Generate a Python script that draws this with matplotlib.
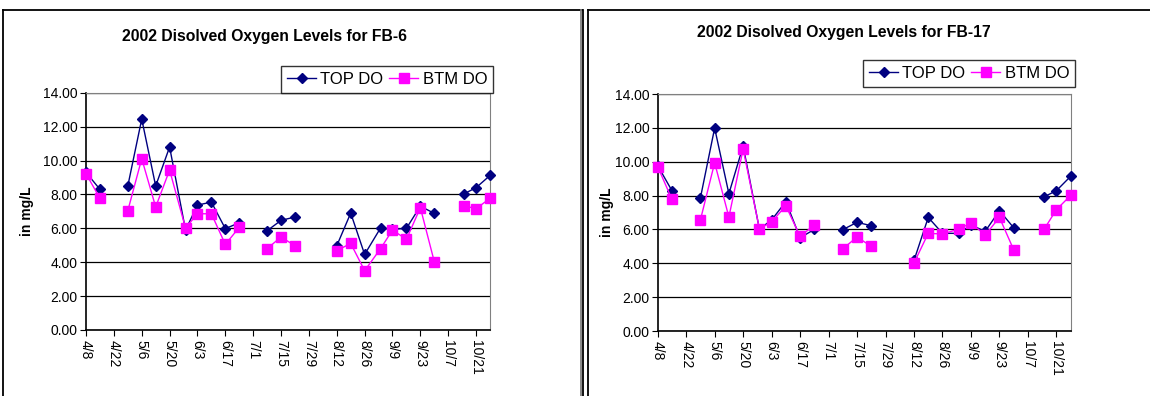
import numpy as np
import matplotlib
matplotlib.use('Agg')
import matplotlib.pyplot as plt
import matplotlib.dates as mdates
from matplotlib.lines import Line2D
from matplotlib.ticker import FixedLocator, FuncFormatter
from datetime import date, timedelta

plt.rcParams['font.family'] = ['Liberation Sans', 'DejaVu Sans']

nan = np.nan
# sample dates (2002), weekly with a few holiday shifts
sample_dates = ["4/8", "4/15", "4/22", "4/29", "5/6", "5/13", "5/20", "5/28", "6/3", "6/10",
                "6/17", "6/24", "7/1", "7/8", "7/15", "7/22", "7/29", "8/5", "8/12", "8/19",
                "8/26", "9/3", "9/9", "9/16", "9/23", "9/30", "10/7", "10/15", "10/21", "10/28"]

fb6_top = [9.30, 8.30, nan, 8.50, 12.45, 8.50, 10.80, 5.90, 7.37, 7.55,
           5.98, 6.33, nan, 5.86, 6.47, 6.67, nan, nan, 4.97, 6.90,
           4.46, 6.02, 5.94, 6.00, 7.31, 6.88, nan, 8.04, 8.40, 9.12]
fb6_btm = [9.22, 7.77, nan, 7.04, 10.11, 7.26, 9.44, 6.02, 6.86, 6.86,
           5.05, 6.06, nan, 4.80, 5.49, 4.97, nan, nan, 4.68, 5.11,
           3.50, 4.80, 5.90, 5.35, 7.22, 4.03, nan, 7.33, 7.16, 7.77]

fb17_top = [9.77, 8.29, nan, 7.86, 11.99, 8.11, 10.93, 6.02, 6.56, 7.64,
            5.51, 6.00, nan, 5.99, 6.42, 6.22, nan, nan, 4.17, 6.71,
            5.77, 5.77, 6.26, 5.89, 7.11, 6.10, nan, 7.93, 8.29, 9.14]
fb17_btm = [9.71, 7.78, nan, 6.56, 9.94, 6.73, 10.75, 6.04, 6.44, 7.40,
            5.59, 6.26, nan, 4.86, 5.55, 5.00, nan, nan, 4.02, 5.77,
            5.73, 6.02, 6.38, 5.67, 6.71, 4.80, nan, 6.02, 7.17, 8.01]

tick_dates = ["4/8", "4/22", "5/6", "5/20", "6/3", "6/17", "7/1", "7/15",
              "7/29", "8/12", "8/26", "9/9", "9/23", "10/7", "10/21"]


def to_date(s):
    m, d = s.split('/')
    return date(2002, int(m), int(d))


x = [to_date(s) for s in sample_dates]
ticks = [mdates.date2num(to_date(s)) for s in tick_dates]

fig = plt.figure(figsize=(11.5, 3.96), dpi=100)


def draw(rect, top, btm, title, title_xy, leg_anchor, ylab_x):
    ax = fig.add_axes(rect)
    ax.plot(x, top, color='#000080', marker='D', markersize=5.5, linewidth=1.0,
            label='TOP DO', clip_on=False, zorder=3)
    ax.plot(x, btm, color='#FF00FF', marker='s', markersize=7, linewidth=1.0,
            label='BTM DO', clip_on=False, zorder=3)
    ax.set_ylim(0, 14)
    ax.set_xlim(to_date("4/8"), to_date("10/28") + timedelta(days=0.5))
    ax.set_yticks(np.arange(0, 14.01, 2))
    ax.yaxis.set_major_formatter(FuncFormatter(lambda v, p: '%.2f' % v))
    ax.xaxis.set_major_locator(FixedLocator(ticks))
    ax.xaxis.set_major_formatter(FuncFormatter(
        lambda v, p: '%d/%d' % (mdates.num2date(v).month, mdates.num2date(v).day)))
    ax.grid(axis='y', color='black', linewidth=0.9)
    ax.set_axisbelow(True)
    for side in ['top', 'right']:
        ax.spines[side].set_color('#808080')
    for side in ['left', 'bottom']:
        ax.spines[side].set_color('black')
        ax.spines[side].set_linewidth(1.2)
    ax.tick_params(axis='y', length=4, labelsize=10, pad=2)
    ax.tick_params(axis='x', length=4, labelsize=10, labelrotation=-90, pad=3)
    ax.set_ylabel('in mg/L', fontsize=10, fontweight='bold')
    ax.yaxis.set_label_coords(ylab_x, 0.5)
    fig.text(title_xy[0], title_xy[1], title, fontsize=11.3, fontweight='bold',
             ha='center', va='center')
    leg = ax.legend(loc='upper right', bbox_to_anchor=leg_anchor, bbox_transform=fig.transFigure,
                    ncol=2, fontsize=12, frameon=True, fancybox=False, handlelength=1.75,
                    borderpad=0.35, columnspacing=0.35, handletextpad=0.25, borderaxespad=0)
    leg.get_frame().set_edgecolor('black')
    leg.get_frame().set_linewidth(1.0)
    return ax


draw([0.0748, 0.1667, 0.3513, 0.599], fb6_top, fb6_btm,
     '2002 Disolved Oxygen Levels for FB-6', (264.5 / 1150, 1 - 36 / 396),
     (493 / 1150, 1 - 66 / 396), -0.13)
draw([0.5719, 0.1641, 0.3591, 0.5985], fb17_top, fb17_btm,
     '2002 Disolved Oxygen Levels for FB-17', (844 / 1150, 1 - 33 / 396),
     (1075 / 1150, 1 - 60 / 396), -0.106)

# chart frames
H = 396.0
W = 1150.0
top_y = 1 - 9.5 / H
fig.add_artist(Line2D([3 / W, 582 / W], [top_y, top_y], color='black', lw=1.3))
fig.add_artist(Line2D([3 / W, 3 / W], [0, top_y], color='black', lw=1.3))
fig.add_artist(Line2D([581 / W, 581 / W], [0, top_y], color='#808080', lw=1.3))
fig.add_artist(Line2D([582.5 / W, 582.5 / W], [0, top_y], color='black', lw=1.3))
fig.add_artist(Line2D([587.5 / W, 1 + 0.01], [top_y, top_y], color='black', lw=1.3))
fig.add_artist(Line2D([587.5 / W, 587.5 / W], [0, top_y], color='black', lw=1.3))

fig.savefig('out.png', dpi=100)
